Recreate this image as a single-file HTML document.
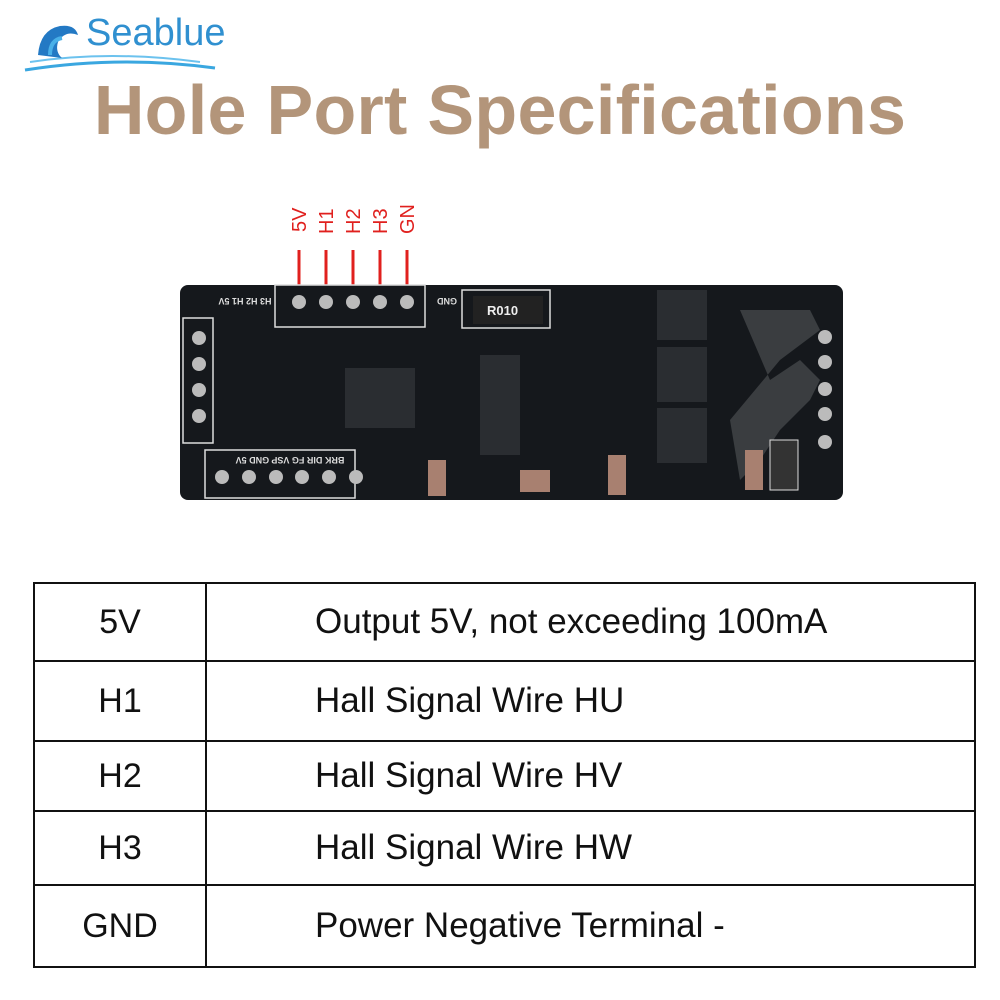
<!DOCTYPE html>
<html><head><meta charset="utf-8"><style>
body{margin:0;width:1000px;height:1000px;background:#fff;position:relative;overflow:hidden;font-family:"Liberation Sans",sans-serif}
.title{position:absolute;left:0;width:1000px;top:70px;text-align:center;font-size:70px;font-weight:bold;color:#b3957a;letter-spacing:0.3px}
.logo{position:absolute;left:86px;top:12px;font-size:38px;color:#3090d0}
table{position:absolute;left:33px;top:582px;width:943px;border-collapse:collapse}
td{border:2.5px solid #111;font-size:35px;color:#111;padding:0}
td.a{width:170px;text-align:center;font-size:34px}
td.b{padding-left:108px}
</style></head><body>
<svg style="position:absolute;left:0;top:0" width="1000" height="1000">
<path d="M25 70 Q120 55 215 68" stroke="#3aa7e0" stroke-width="3" fill="none"/>
<path d="M30 62 Q110 50 200 62" stroke="#6cc2ee" stroke-width="2" fill="none"/>
<path d="M38 55 Q40 30 60 26 Q75 24 78 35 Q65 30 58 42 Q55 52 62 58Z" fill="#2379c4"/>
<path d="M50 55 Q50 40 62 38" stroke="#49b0e8" stroke-width="4" fill="none"/>
<g fill="#e0201e" font-size="20" font-family="Liberation Sans">
<text transform="translate(306,232) rotate(-90)">5V</text>
<text transform="translate(333,234) rotate(-90)">H1</text>
<text transform="translate(360,234) rotate(-90)">H2</text>
<text transform="translate(387,234) rotate(-90)">H3</text>
<text transform="translate(414,234) rotate(-90)">GN</text>
</g>
<g stroke="#e0201e" stroke-width="3">
<line x1="299" y1="250" x2="299" y2="302"/><line x1="326" y1="250" x2="326" y2="302"/>
<line x1="353" y1="250" x2="353" y2="302"/><line x1="380" y1="250" x2="380" y2="302"/>
<line x1="407" y1="250" x2="407" y2="302"/>
</g>
<rect x="180" y="285" width="663" height="215" rx="8" fill="#15181c"/>
<g stroke="#ddd" stroke-width="1.5" fill="none">
<rect x="275" y="285" width="150" height="42"/>
<rect x="183" y="318" width="30" height="125"/>
<rect x="205" y="450" width="150" height="48"/>
<rect x="462" y="290" width="88" height="38"/>
</g>
<g fill="#bbb"><circle cx="299" cy="302" r="7"/><circle cx="326" cy="302" r="7"/><circle cx="353" cy="302" r="7"/><circle cx="380" cy="302" r="7"/><circle cx="407" cy="302" r="7"/>
<circle cx="199" cy="338" r="7"/><circle cx="199" cy="364" r="7"/><circle cx="199" cy="390" r="7"/><circle cx="199" cy="416" r="7"/>
<circle cx="222" cy="477" r="7"/><circle cx="249" cy="477" r="7"/><circle cx="276" cy="477" r="7"/><circle cx="302" cy="477" r="7"/><circle cx="329" cy="477" r="7"/><circle cx="356" cy="477" r="7"/>
<circle cx="825" cy="337" r="7"/><circle cx="825" cy="362" r="7"/><circle cx="825" cy="389" r="7"/><circle cx="825" cy="414" r="7"/><circle cx="825" cy="442" r="7"/></g>
<rect x="473" y="296" width="70" height="28" fill="#222"/><text x="487" y="315" fill="#eee" font-size="13" font-weight="bold">R010</text>
<rect x="345" y="368" width="70" height="60" fill="#2a2d31"/>
<rect x="480" y="355" width="40" height="100" fill="#2a2d31"/>
<rect x="657" y="290" width="50" height="50" fill="#2a2d31"/><rect x="657" y="347" width="50" height="55" fill="#2a2d31"/><rect x="657" y="408" width="50" height="55" fill="#2a2d31"/>
<path d="M740 310 L810 310 L820 330 L780 360 L730 420 L740 480 L760 460 L780 430 L810 400 L820 380 L800 360 L770 380 Z" fill="#3a3d40"/>
<rect x="520" y="470" width="30" height="22" fill="#a88070"/><rect x="428" y="460" width="18" height="36" fill="#a88070"/>
<rect x="608" y="455" width="18" height="40" fill="#a88070"/><rect x="745" y="450" width="18" height="40" fill="#a88070"/>
<rect x="770" y="440" width="28" height="50" fill="#333" stroke="#ddd"/>
<g fill="#ddd" font-size="9" font-weight="bold">
<text transform="translate(245,298) rotate(180)" text-anchor="middle">H3 H2 H1 5V</text>
<text transform="translate(447,298) rotate(180)" text-anchor="middle">GND</text>
<text transform="translate(290,457) rotate(180)" text-anchor="middle">BRK  DIR  FG  VSP  GND  5V</text></g>
</svg>
<div class="title">Hole Port Specifications</div>
<div class="logo">Seablue</div>
<table>
<tr style="height:78px"><td class="a">5V</td><td class="b">Output 5V, not exceeding 100mA</td></tr>
<tr style="height:80px"><td class="a">H1</td><td class="b">Hall Signal Wire HU</td></tr>
<tr style="height:70px"><td class="a">H2</td><td class="b">Hall Signal Wire HV</td></tr>
<tr style="height:74px"><td class="a">H3</td><td class="b">Hall Signal Wire HW</td></tr>
<tr style="height:82px"><td class="a">GND</td><td class="b">Power Negative Terminal -</td></tr>
</table>
</body></html>
